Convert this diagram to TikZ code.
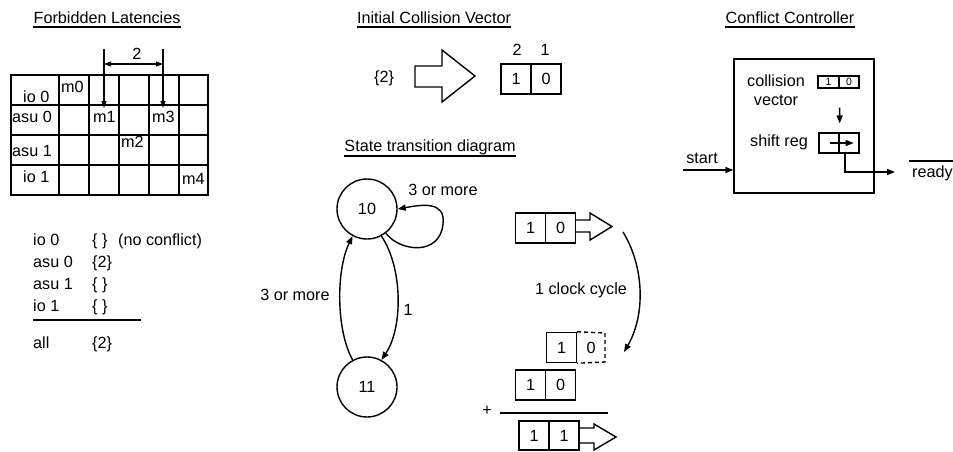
\documentclass[tikz,border=0pt]{standalone}
\usepackage{fontspec}
\setmainfont{Liberation Sans}
\usetikzlibrary{arrows.meta,calc}
\newcommand\bigfont{\fontsize{16.2}{19}\selectfont}
\newcommand\smallfont{\fontsize{10.5}{12}\selectfont}
\tikzset{
  lbl/.style={font=\bigfont, inner sep=0pt},
  wire/.style={line width=1.4pt},
  thin/.style={line width=1.1pt},
  grid/.style={line width=2pt},
  tip/.style={-{Triangle[length=8pt,width=6pt]}},
  smalltip/.style={-{Triangle[length=7pt,width=5pt]}},
  regcell/.style={draw, line width=1.4pt, minimum width=30pt, minimum height=30pt,
                  inner sep=0pt, font=\bigfont},
  minicell/.style={draw, line width=1.2pt, minimum height=12pt, inner sep=0pt, font=\smallfont},
  srcell/.style={draw, line width=1.4pt, minimum width=20pt, minimum height=20pt, inner sep=0pt},
  state/.style={draw, circle, line width=1.4pt, minimum size=60pt, inner sep=0pt, font=\bigfont},
  ulabel/.style={lbl, anchor=base},
}
% underline a title node
\newcommand\uline[1]{\draw[wire] ($(#1.base west)+(0,4)$) -- ($(#1.base east)+(0,4)$);}

\begin{document}
\begin{tikzpicture}[x=1pt,y=-1pt]
\useasboundingbox (0,0) rectangle (953,451);

%% ---------------- Forbidden latencies ----------------
\node[ulabel] (tfl) at (107,23) {Forbidden Latencies};
\uline{tfl}

% reservation table grid
\draw[grid] (11,75) rectangle (208,195);
\foreach \yy in {105,135,165} \draw[grid] (11,\yy) -- (208,\yy);
\foreach \xx in {59,89,119,149,179} \draw[grid] (\xx,75) -- (\xx,195);

\node[lbl, anchor=base west] (r0) at (23,102) {io 0};
\node[lbl, anchor=base west] (r1) at (12,122) {asu 0};
\node[lbl, anchor=base west] (r2) at (12,156) {asu 1};
\node[lbl, anchor=base west] (r3) at (23,182) {io 1};
\node[lbl, anchor=base west] (m0) at (61,92) {m0};
\node[lbl, anchor=base west] (m1) at (93,122) {m1};
\node[lbl, anchor=base west] (m3) at (152,122) {m3};
\node[lbl, anchor=base west] (m2) at (121,147) {m2};
\node[lbl, anchor=base west] (m4) at (182,184) {m4};

% latency distance between m1 and m3
\coordinate (da) at (104,49);
\coordinate (db) at (163,49);
\coordinate (dam) at (104,64);
\coordinate (dbm) at (163,64);
\coordinate (dae) at (104,108);
\coordinate (dbe) at (163,108);
\draw[thin, smalltip] (da) -- (dae);
\draw[thin, smalltip] (db) -- (dbe);
\draw[thin, {Triangle[length=7pt,width=5pt]}-{Triangle[length=7pt,width=5pt]}] (dam) -- (dbm);
\node[ulabel] (dist) at (137,59) {2};

% per-resource latency sets
\node[lbl, anchor=base west] (l0) at (33,245) {io 0};
\node[lbl, anchor=base west] (l1) at (33,267) {asu 0};
\node[lbl, anchor=base west] (l2) at (33,289) {asu 1};
\node[lbl, anchor=base west] (l3) at (33,311) {io 1};
\node[lbl, anchor=base west] (l4) at (33,348) {all};
\node[lbl, anchor=base west] (s0) at (92,245) {\{ \}};
\node[lbl, anchor=base west] (s1) at (92,267) {\{2\}};
\node[lbl, anchor=base west] (s2) at (92,289) {\{ \}};
\node[lbl, anchor=base west] (s3) at (92,311) {\{ \}};
\node[lbl, anchor=base west] (s4) at (92,348) {\{2\}};
\node[lbl, anchor=base west] (nc) at (118,245) {(no conflict)};
\draw[wire] (33,320) -- (141,320);

%% ---------------- Initial collision vector ----------------
\node[ulabel] (ticv) at (434,23) {Initial Collision Vector};
\uline{ticv}
\node[ulabel] (set) at (384,82) {\{2\}};
\draw[wire, line join=miter] (415,66) -- (442,66) -- (442,50) -- (475,76) -- (442,102) -- (442,87) -- (415,87) -- cycle;
\node[regcell] (icva) at (516,79) {1};
\node[regcell] (icvb) at (546,79) {0};
\node[ulabel] (bit2) at (517,55) {2};
\node[ulabel] (bit1) at (545,55) {1};

%% ---------------- Conflict controller ----------------
\node[ulabel] (tcc) at (790,23) {Conflict Controller};
\uline{tcc}
\node[draw, wire, minimum width=140pt, minimum height=134pt, inner sep=0pt] (cc) at (804,126) {};
\node[lbl, anchor=base] (cvl1) at (776,86) {collision};
\node[lbl, anchor=base] (cvl2) at (776,105) {vector};
\node[lbl, anchor=base] (srl) at (779,146) {shift reg};
\node[minicell, minimum width=21pt] (cva) at (828.5,82) {1};
\node[minicell, minimum width=20pt] (cvb) at (849,82) {0};
\node[srcell] (sra) at (829,143) {};
\node[srcell] (srb) at (849,143) {};
\draw[wire, tip] ($(cva.south east)+(0,19)$) -- ($(sra.north east)+(0,-9)$);
\draw[wire, tip] ($(sra.center)+(1,0)$) -- ($(srb.east)+(-6,0)$);
\coordinate (rdyin) at (895,172);
\draw[wire, tip] ($(srb.south)+(-4,0)$) |- (rdyin);
\node[lbl, anchor=base west] (rdy) at (912,177) {ready};
\draw[wire] ($(rdy.base west)+(-3,-16)$) -- ($(rdy.base east)+(1,-16)$);
\node[lbl, anchor=base] (stl) at (702,163) {start};
\coordinate (stin) at (683,170);
\draw[wire, tip] (stin) -- (cc.west |- stin);

%% ---------------- State transition diagram ----------------
\node[ulabel] (tstd) at (430,151) {State transition diagram};
\draw[wire] ($(tstd.base west)+(0,5)$) -- ($(tstd.base east)+(0,5)$);
\node[state] (n10) at (367,209) {10};
\node[state] (n11) at (367,387) {11};
\draw[wire, tip] (n11.118) .. controls (336,330) and (336,270) .. (n10.-118);
\draw[wire, tip] (n10.-62) .. controls (403,268) and (403,328) .. (n11.62);
\draw[wire, tip] (n10.-52) .. controls (400,252) and (440,256) .. (443,224)
                 .. controls (446,200) and (420,205) .. (n10.east);
\node[ulabel] (lp) at (443,195) {3 or more};
\node[ulabel] (lb) at (295,300) {3 or more};
\node[ulabel] (lf) at (408,315) {1};

% collision vector shifting
\node[regcell] (ta) at (530.5,228) {1};
\node[regcell] (tb) at (560.5,228) {0};
\draw[wire, line join=miter] (575.5,220) -- (590,220) -- (590,213) -- (612,226.5) -- (590,240) -- (590,232) -- (575.5,232);
\coordinate (cya) at (623,232);
\coordinate (cyb) at (624,352);
\draw[wire, tip] (cya) .. controls (645,268) and (645,316) .. (cyb);
\node[ulabel] (clk) at (581,294) {1 clock cycle};

\node[regcell] (sha) at (561.5,347.5) {1};
\node[lbl] (shb) at (591,347.5) {0};
\draw[wire, dashed, dash pattern=on 4pt off 3pt] (sha.north east) -- (605,333) -- (605,362) -- (sha.south east);

\node[regcell] (ma) at (530.5,385) {1};
\node[regcell] (mb) at (560.5,385) {0};
\node[lbl] (plus) at (487,410.5) {+};
\draw[wire] (500,413) -- (608,413);
\node[regcell, minimum height=29pt] (ba) at (534,435.5) {1};
\node[regcell, minimum height=29pt] (bb) at (564,435.5) {1};
\draw[wire, line join=miter] (579,428) -- (594,428) -- (594,424) -- (616,437) -- (594,450) -- (594,443) -- (579,443);
\end{tikzpicture}
\end{document}
